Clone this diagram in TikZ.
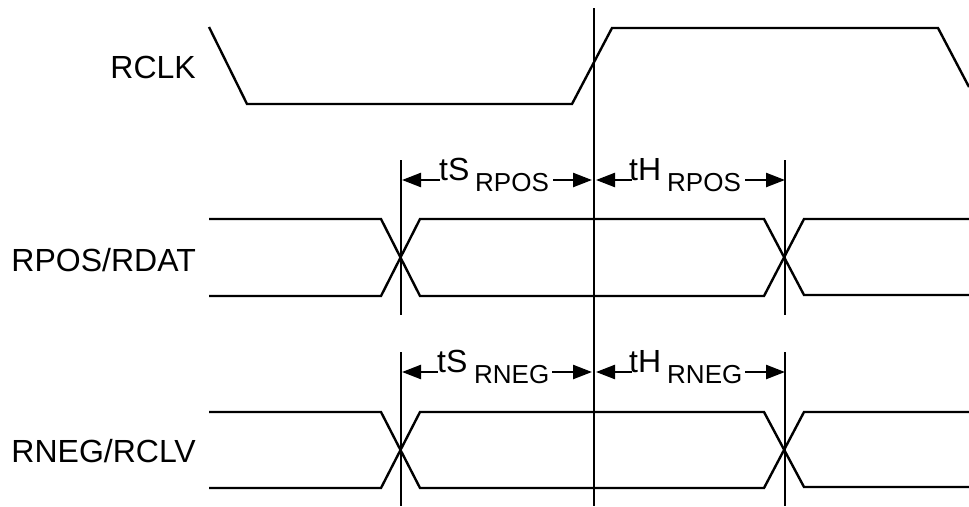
\documentclass[tikz,border=0pt]{standalone}
\usepackage{fontspec}
\setmainfont{Liberation Sans}
\usetikzlibrary{arrows.meta}
\begin{document}
\begin{tikzpicture}[x=1pt,y=-1pt,
  wave/.style={line width=2.4pt,line join=miter},
  guide/.style={line width=2.4pt},
  dim/.style={line width=2.4pt,-{Triangle[length=19pt,width=14pt]}},
  siglabel/.style={anchor=base east,inner sep=0pt,font=\fontsize{32}{32}\selectfont},
  tlabel/.style={anchor=base west,inner sep=0pt,font=\fontsize{32}{32}\selectfont},
  sublabel/.style={anchor=base west,inner sep=0pt,font=\fontsize{26}{26}\selectfont}]
\useasboundingbox (0,0) rectangle (969,506);
% signal names
\node[siglabel] (lclk) at (196,78) {RCLK};
\node[siglabel] (lpos) at (196,271) {RPOS/RDAT};
\node[siglabel] (lneg) at (196,462) {RNEG/RCLV};
% RCLK waveform
\draw[wave] (209,27) -- (247,104) -- (572,104) -- (612,28) -- (938,28) -- (969,87);
% RPOS waveform
\draw[wave] (209,219) -- (381,219) -- (420,296) -- (764,296) -- (804,219) -- (969,219);
\draw[wave] (209,296) -- (381,296) -- (420,219) -- (764,219) -- (804,295) -- (969,295);
% RNEG waveform
\draw[wave] (209,412) -- (381,412) -- (420,488) -- (764,488) -- (804,412) -- (969,412);
\draw[wave] (209,488) -- (381,488) -- (420,412) -- (764,412) -- (804,487) -- (969,487);
% guide lines
\coordinate (ctop) at (594,8);
\coordinate (cbot) at (594,506);
\draw[guide] (ctop) -- (cbot);
\coordinate (l1t) at (401,160); \coordinate (l1b) at (401,315);
\coordinate (l2t) at (401,352); \coordinate (l2b) at (401,506);
\coordinate (r1t) at (785,160); \coordinate (r1b) at (785,315);
\coordinate (r2t) at (785,352); \coordinate (r2b) at (785,506);
\draw[guide] (l1t) -- (l1b);
\draw[guide] (l2t) -- (l2b);
\draw[guide] (r1t) -- (r1b);
\draw[guide] (r2t) -- (r2b);
% RPOS timing labels
\node[tlabel] (ts1) at (439,180) {tS};
\node[sublabel] (ts1s) at (475,191) {RPOS};
\node[tlabel] (th1) at (629,180) {tH};
\node[sublabel] (th1s) at (667,191) {RPOS};
\coordinate (a1) at (440,180); \coordinate (a1t) at (402,180);
\coordinate (a2) at (553,180); \coordinate (a2t) at (592,180);
\coordinate (a3) at (632,180); \coordinate (a3t) at (596,180);
\coordinate (a4) at (745,180); \coordinate (a4t) at (785,180);
\draw[dim] (a1) -- (a1t);
\draw[dim] (a2) -- (a2t);
\draw[dim] (a3) -- (a3t);
\draw[dim] (a4) -- (a4t);
% RNEG timing labels
\node[tlabel] (ts2) at (437,372) {tS};
\node[sublabel] (ts2s) at (474,383) {RNEG};
\node[tlabel] (th2) at (629,372) {tH};
\node[sublabel] (th2s) at (667,383) {RNEG};
\coordinate (b1) at (438,372); \coordinate (b1t) at (402,372);
\coordinate (b2) at (552,372); \coordinate (b2t) at (592,372);
\coordinate (b3) at (632,372); \coordinate (b3t) at (596,372);
\coordinate (b4) at (745,372); \coordinate (b4t) at (785,372);
\draw[dim] (b1) -- (b1t);
\draw[dim] (b2) -- (b2t);
\draw[dim] (b3) -- (b3t);
\draw[dim] (b4) -- (b4t);
\end{tikzpicture}
\end{document}
